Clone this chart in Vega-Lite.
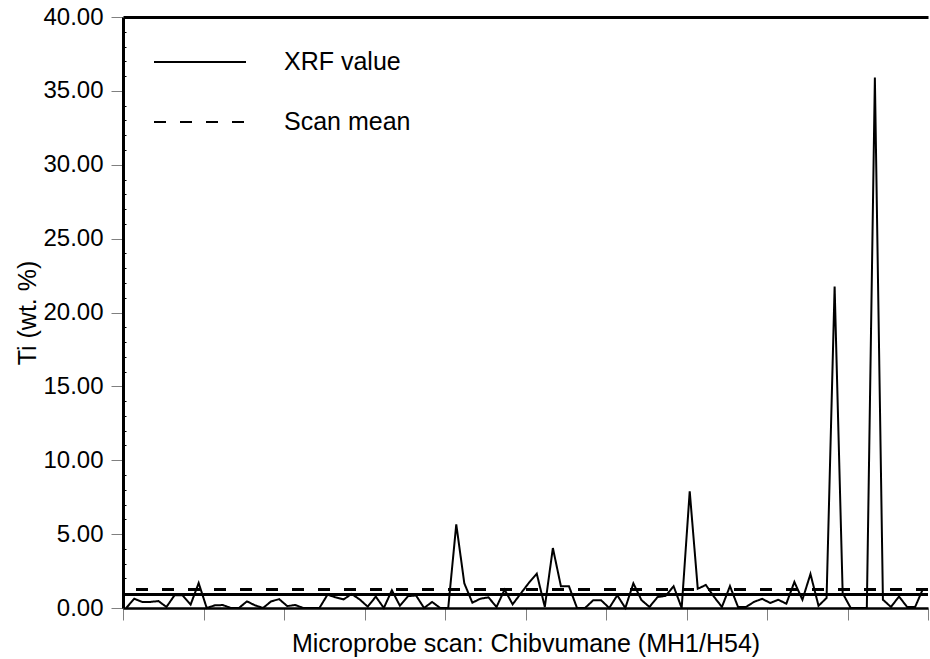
{
  "$schema": "https://vega.github.io/schema/vega-lite/v6.json",
  "width": 805,
  "height": 591,
  "autosize": "none",
  "padding": {"left": 123, "top": 17, "right": 2, "bottom": 51},
  "config": {
    "view": {"stroke": null},
    "font": "Liberation Sans",
    "axis": {"grid": false, "labelFont": "Liberation Sans", "titleFont": "Liberation Sans", "titleFontWeight": "normal", "labelColor": "black", "titleColor": "black"},
    "legend": {"labelFont": "Liberation Sans"}
  },
  "data": {"values": [
    {"i": 1, "ti": 0.0}, {"i": 2, "ti": 0.63}, {"i": 3, "ti": 0.41}, {"i": 4, "ti": 0.41}, {"i": 5, "ti": 0.47},
    {"i": 6, "ti": 0.07}, {"i": 7, "ti": 0.86}, {"i": 8, "ti": 0.86}, {"i": 9, "ti": 0.23}, {"i": 10, "ti": 1.69},
    {"i": 11, "ti": 0.0}, {"i": 12, "ti": 0.18}, {"i": 13, "ti": 0.2}, {"i": 14, "ti": 0.0}, {"i": 15, "ti": 0.0},
    {"i": 16, "ti": 0.45}, {"i": 17, "ti": 0.18}, {"i": 18, "ti": 0.0}, {"i": 19, "ti": 0.45}, {"i": 20, "ti": 0.6},
    {"i": 21, "ti": 0.13}, {"i": 22, "ti": 0.2}, {"i": 23, "ti": 0.0}, {"i": 24, "ti": 0.0}, {"i": 25, "ti": 0.0},
    {"i": 26, "ti": 0.9}, {"i": 27, "ti": 0.72}, {"i": 28, "ti": 0.58}, {"i": 29, "ti": 0.95}, {"i": 30, "ti": 0.58},
    {"i": 31, "ti": 0.09}, {"i": 32, "ti": 0.77}, {"i": 33, "ti": 0.0}, {"i": 34, "ti": 1.2}, {"i": 35, "ti": 0.15},
    {"i": 36, "ti": 0.8}, {"i": 37, "ti": 0.85}, {"i": 38, "ti": 0.0}, {"i": 39, "ti": 0.41}, {"i": 40, "ti": 0.0},
    {"i": 41, "ti": 0.0}, {"i": 42, "ti": 5.66}, {"i": 43, "ti": 1.67}, {"i": 44, "ti": 0.36}, {"i": 45, "ti": 0.63},
    {"i": 46, "ti": 0.72}, {"i": 47, "ti": 0.07}, {"i": 48, "ti": 1.24}, {"i": 49, "ti": 0.25}, {"i": 50, "ti": 0.97},
    {"i": 51, "ti": 1.69}, {"i": 52, "ti": 2.32}, {"i": 53, "ti": 0.07}, {"i": 54, "ti": 4.06}, {"i": 55, "ti": 1.47},
    {"i": 56, "ti": 1.47}, {"i": 57, "ti": 0.0}, {"i": 58, "ti": 0.0}, {"i": 59, "ti": 0.52}, {"i": 60, "ti": 0.52},
    {"i": 61, "ti": 0.0}, {"i": 62, "ti": 0.86}, {"i": 63, "ti": 0.0}, {"i": 64, "ti": 1.67}, {"i": 65, "ti": 0.54},
    {"i": 66, "ti": 0.07}, {"i": 67, "ti": 0.74}, {"i": 68, "ti": 0.82}, {"i": 69, "ti": 1.47}, {"i": 70, "ti": 0.0},
    {"i": 71, "ti": 7.9}, {"i": 72, "ti": 1.3}, {"i": 73, "ti": 1.56}, {"i": 74, "ti": 0.77}, {"i": 75, "ti": 0.07},
    {"i": 76, "ti": 1.48}, {"i": 77, "ti": 0.07}, {"i": 78, "ti": 0.07}, {"i": 79, "ti": 0.42}, {"i": 80, "ti": 0.62},
    {"i": 81, "ti": 0.34}, {"i": 82, "ti": 0.56}, {"i": 83, "ti": 0.29}, {"i": 84, "ti": 1.76}, {"i": 85, "ti": 0.56},
    {"i": 86, "ti": 2.3}, {"i": 87, "ti": 0.15}, {"i": 88, "ti": 0.68}, {"i": 89, "ti": 21.75}, {"i": 90, "ti": 1.0},
    {"i": 91, "ti": 0.0}, {"i": 92, "ti": 0.0}, {"i": 93, "ti": 0.0}, {"i": 94, "ti": 35.9}, {"i": 95, "ti": 0.56},
    {"i": 96, "ti": 0.07}, {"i": 97, "ti": 0.78}, {"i": 98, "ti": 0.07}, {"i": 99, "ti": 0.07}, {"i": 100, "ti": 1.33}
  ]},
  "resolve": {"axis": {"x": "independent", "y": "independent"}},
  "layer": [
    {
      "mark": {"type": "line", "color": "black", "strokeWidth": 2},
      "encoding": {
        "x": {"field": "i", "type": "quantitative",
          "scale": {"domain": [0.6, 100.6], "nice": false, "zero": false},
          "axis": {"orient": "bottom", "values": [0.6, 10.6, 20.6, 30.6, 40.6, 50.6, 60.6, 70.6, 80.6, 90.6, 100.6],
            "labels": false, "tickColor": "#808080", "tickSize": 12, "tickWidth": 1,
            "domainColor": "black", "domainWidth": 2.5,
            "title": "Microprobe scan: Chibvumane (MH1/H54)", "titleFontSize": 25,
            "titleBaseline": "alphabetic", "titleY": 43}},
        "y": {"field": "ti", "type": "quantitative",
          "scale": {"domain": [0, 40], "nice": false},
          "axis": {"orient": "left", "values": [0, 5, 10, 15, 20, 25, 30, 35, 40], "format": ".2f",
            "labelFontSize": 24, "labelPadding": 8, "tickColor": "#808080", "tickSize": 12, "tickWidth": 1,
            "domainColor": "black", "domainWidth": 3,
            "title": "Ti (wt. %)", "titleFontSize": 25, "titleBaseline": "middle", "titleX": -96}},
        "strokeDash": {"datum": "XRF value",
          "scale": {"domain": ["XRF value", "Scan mean"], "range": [[1, 0], [12, 14]]},
          "legend": {"title": null, "orient": "none", "legendX": 30, "legendY": -2,
            "padding": 0, "symbolType": "stroke", "symbolSize": 8464, "symbolStrokeWidth": 2,
            "symbolStrokeColor": "black", "rowPadding": 0, "labelOffset": 37,
            "labelFontSize": 25, "labelColor": "black"}}
      }
    },
    {
      "mark": {"type": "rule", "color": "black", "strokeWidth": 2},
      "encoding": {
        "y": {"datum": 1.25, "axis": null},
        "strokeDash": {"datum": "Scan mean"}
      }
    },
    {
      "mark": {"type": "rule", "color": "black", "strokeWidth": 2},
      "encoding": {
        "y": {"datum": 0.93, "axis": null}
      }
    },
    {
      "mark": {"type": "point", "opacity": 0},
      "encoding": {
        "x": {"datum": 0.6, "axis": {"orient": "top", "labels": false, "ticks": false, "domainColor": "black", "domainWidth": 3, "title": null}},
        "y": {"datum": 0, "axis": {"orient": "left", "labels": false, "domain": false, "title": null, "tickColor": "black", "tickSize": -3, "tickWidth": 1,
          "values": [1,2,3,4,6,7,8,9,11,12,13,14,16,17,18,19,21,22,23,24,26,27,28,29,31,32,33,34,36,37,38,39]}}
      }
    }
  ]
}
